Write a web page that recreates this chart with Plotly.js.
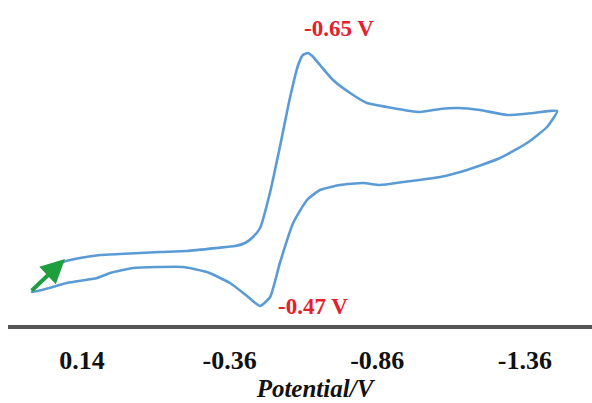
<!DOCTYPE html>
<html>
<head>
<meta charset="utf-8">
<script src="https://cdn.plot.ly/plotly-3.0.1.min.js"></script>
<style>html,body{margin:0;padding:0;background:#fff;overflow:hidden;width:592px;height:403px;}#chart{width:622px;height:403px;}</style>
</head>
<body>
<div id="chart"></div>
<script>
// Forward scan (toward negative potential), then reverse scan back
const potentialForward = [0.310, 0.259, 0.205, 0.147, 0.079, 0.012, -0.056, -0.124, -0.215, -0.317, -0.378, -0.412, -0.439, -0.463, -0.497, -0.530, -0.564, -0.592, -0.608, -0.625, -0.640, -0.666, -0.710, -0.768, -0.825, -0.893, -0.971, -1.005, -1.073, -1.134, -1.208, -1.300, -1.388, -1.469];
const currentForward = [3.3, 4.8, 6.3, 6.7, 7.0, 7.1, 7.2, 7.3, 7.4, 7.7, 7.9, 8.2, 8.8, 9.7, 13.3, 17.8, 22.7, 26.0, 27.0, 27.2, 26.9, 26.0, 24.5, 23.2, 22.2, 21.8, 21.4, 21.3, 21.6, 21.7, 21.5, 21.0, 21.2, 21.4];
const potentialReverse = [-1.435, -1.367, -1.276, -1.164, -1.073, -0.947, -0.869, -0.812, -0.734, -0.666, -0.622, -0.575, -0.530, -0.497, -0.463, -0.419, -0.361, -0.283, -0.202, -0.114, -0.033, 0.045, 0.089, 0.191, 0.310];
const currentReverse = [19.8, 18.2, 16.7, 15.5, 14.8, 14.3, 14.0, 14.2, 14.0, 13.5, 12.5, 10.2, 6.2, 2.8, 1.9, 2.9, 4.2, 5.3, 5.8, 5.8, 5.7, 5.2, 4.7, 4.2, 3.3];

const tickValues = [0.14, -0.36, -0.86, -1.36];
const tickLabels = ["0.14", "-0.36", "-0.86", "-1.36"];

const peakLabels = ["-0.65 V", "-0.47 V"];
const peakLabelPotential = [-0.730, -0.642];
const peakLabelCurrent = [29.7, 1.9];

const arrowTail = [0.316, 3.3];
const arrowHead = [0.198, 6.6];

const xs = potentialForward.concat(potentialReverse);
const ys = currentForward.concat(currentReverse);

const serif = "Liberation Serif, Times New Roman, serif";
const red = "#e3202c";

const data = [{
  x: xs, y: ys, type: "scatter", mode: "lines",
  line: {color: "#5b9bd5", width: 2.6, shape: "spline", smoothing: 0.5},
  hoverinfo: "skip", showlegend: false
}];

const annotations = peakLabels.map((t, i) => ({
  x: peakLabelPotential[i], y: peakLabelCurrent[i], xref: "x", yref: "y",
  text: t, showarrow: false,
  font: {family: serif, size: 23, color: red, weight: "bold"}
}));
annotations.push({
  x: arrowHead[0], y: arrowHead[1], ax: arrowTail[0], ay: arrowTail[1],
  xref: "x", yref: "y", axref: "x", ayref: "y",
  text: "", showarrow: true, arrowhead: 2, arrowsize: 1.2, arrowwidth: 4,
  arrowcolor: "#1e9e3c", standoff: 0, startstandoff: 0
});

// the plot area runs past the right edge of the 592px window, as in the reference
const layout = {
  width: 622, height: 403,
  margin: {l: 8, r: 0, t: 0, b: 78, pad: 0},
  paper_bgcolor: "#ffffff", plot_bgcolor: "#ffffff",
  showlegend: false,
  xaxis: {
    range: [0.391, -1.689],
    showgrid: false, zeroline: false,
    showline: true, linecolor: "#555555", linewidth: 3.5,
    ticks: "", tickvals: tickValues, ticktext: tickLabels,
    ticklabelstandoff: 9,
    tickfont: {family: serif, size: 26, color: "#111111", weight: "bold"},
    title: {text: "Potential/V", standoff: 2,
      font: {family: serif, size: 25, color: "#111111", style: "italic", weight: "bold"}}
  },
  yaxis: {range: [0, 32.5], visible: false, fixedrange: true},
  annotations: annotations
};

Plotly.newPlot("chart", data, layout, {staticPlot: true, displayModeBar: false});
</script>
</body>
</html>
